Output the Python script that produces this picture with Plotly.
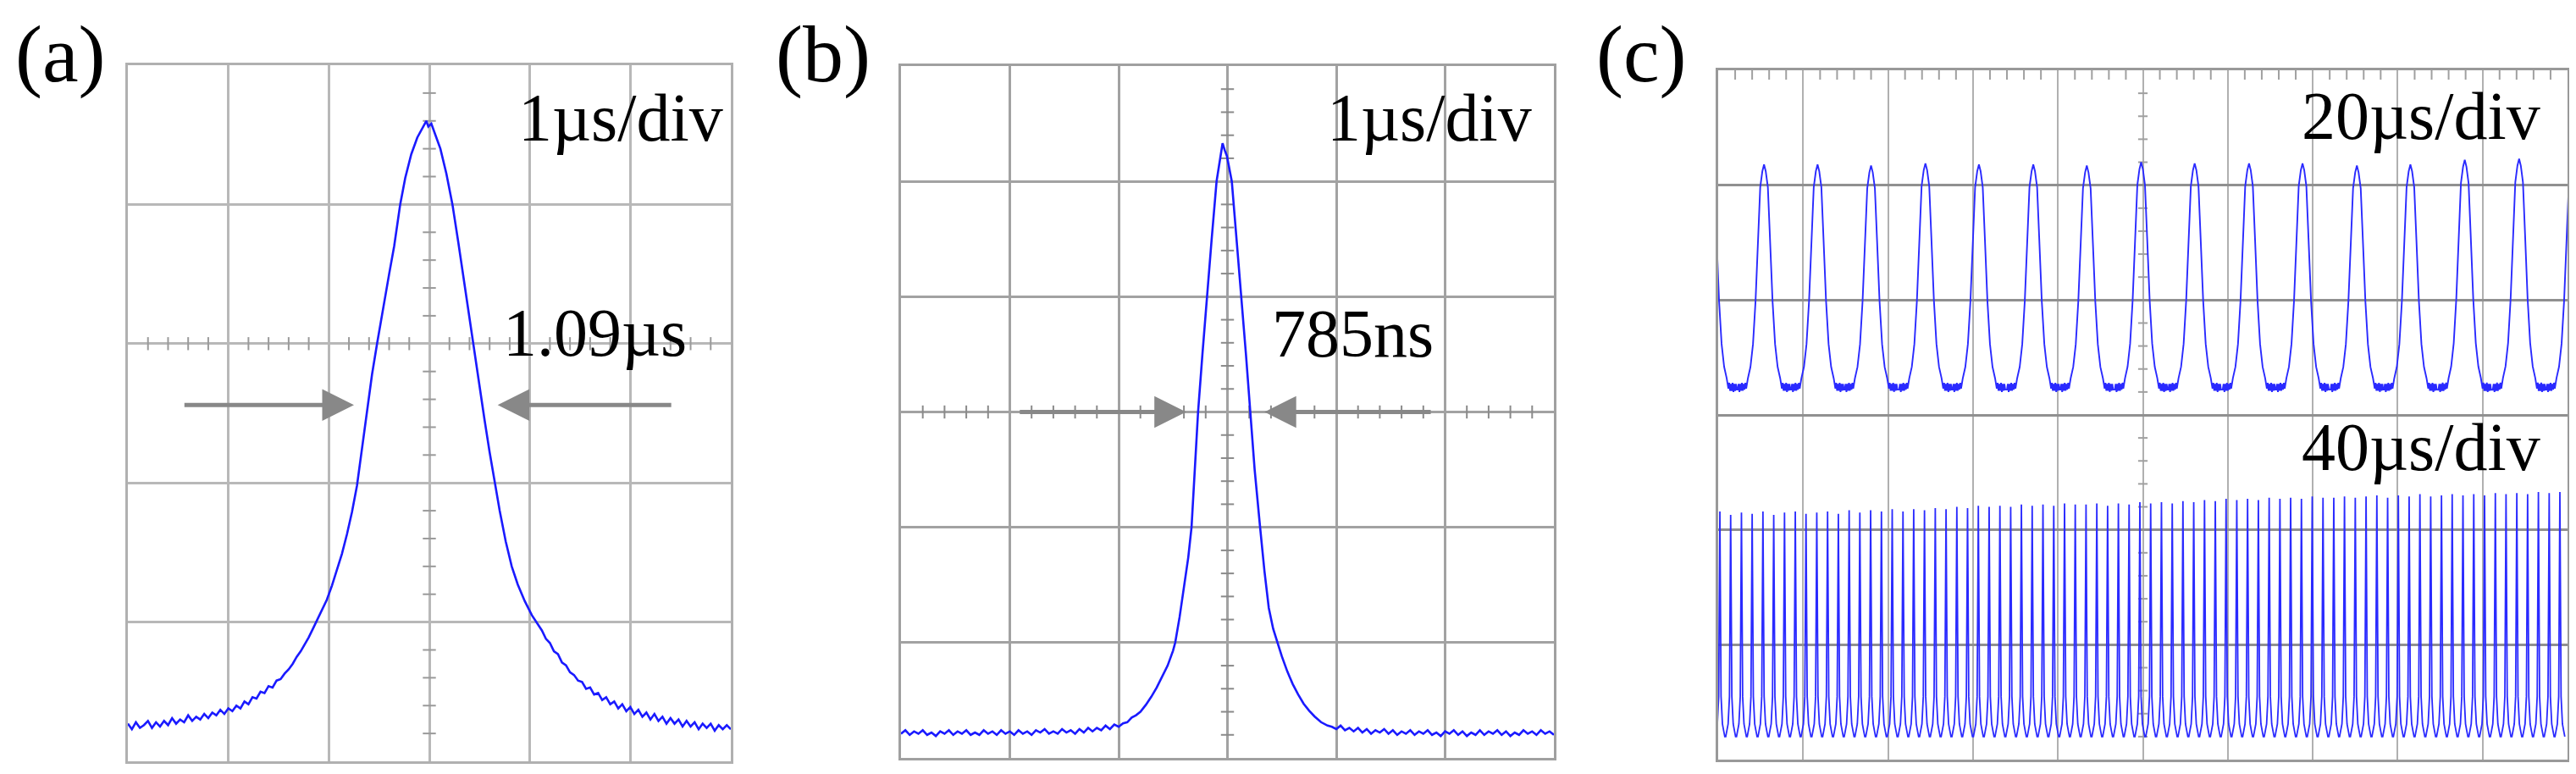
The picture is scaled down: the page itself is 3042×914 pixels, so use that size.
import plotly.graph_objects as go

# ---------------- data (x in divisions, y in divisions) -------------
# Panel (a): 1 us/div single pulse
A_T = [-3.00, -2.96, -2.92, -2.88, -2.84, -2.80, -2.76, -2.72, -2.68, -2.64, -2.60, -2.56,
       -2.52, -2.48, -2.44, -2.40, -2.36, -2.32, -2.28, -2.24, -2.20, -2.16, -2.12, -2.08,
       -2.04, -2.00, -1.96, -1.92, -1.88, -1.84, -1.80, -1.76, -1.72, -1.68, -1.64, -1.60,
       -1.56, -1.52, -1.48, -1.44, -1.40, -1.36, -1.32, -1.28, -1.24, -1.20, -1.16, -1.12,
       -1.07, -1.02, -0.97, -0.92, -0.87, -0.82, -0.77, -0.72, -0.67, -0.62, -0.57, -0.52,
       -0.46, -0.40, -0.35, -0.29, -0.24, -0.18, -0.12, -0.07, -0.03, -0.01, 0.02, 0.06,
       0.11, 0.17, 0.23, 0.29, 0.35, 0.40, 0.44, 0.50, 0.55, 0.60, 0.65, 0.70, 0.76, 0.82,
       0.88, 0.95, 1.02, 1.08,
       1.12, 1.16, 1.20, 1.24, 1.28, 1.32, 1.36, 1.40, 1.44, 1.48, 1.52, 1.56, 1.60, 1.64,
       1.68, 1.72, 1.76, 1.80, 1.84, 1.88, 1.92, 1.96, 2.00, 2.04, 2.08, 2.12, 2.16, 2.20,
       2.24, 2.28, 2.32, 2.36, 2.40, 2.44, 2.48, 2.52, 2.56, 2.60, 2.64, 2.68, 2.72, 2.76,
       2.80, 2.84, 2.88, 2.92, 2.96, 3.00]
A_V = [0.27, 0.23, 0.28, 0.24, 0.26, 0.29, 0.24, 0.28, 0.25, 0.29, 0.26, 0.31,
       0.27, 0.30, 0.28, 0.33, 0.29, 0.32, 0.30, 0.34, 0.31, 0.35, 0.33, 0.37,
       0.34, 0.38, 0.36, 0.40, 0.38, 0.43, 0.41, 0.46, 0.45, 0.50, 0.49, 0.54,
       0.53, 0.58, 0.59, 0.63, 0.66, 0.70, 0.75, 0.79, 0.84, 0.89, 0.95, 1.01,
       1.08, 1.16, 1.26, 1.37, 1.49, 1.63, 1.79, 1.98, 2.25, 2.53, 2.78, 3.00,
       3.26, 3.50, 3.70, 4.00, 4.19, 4.36, 4.48, 4.55, 4.60, 4.56, 4.58, 4.50,
       4.40, 4.22, 4.00, 3.72, 3.42, 3.20, 3.00, 2.70, 2.45, 2.22, 2.00, 1.80, 1.58, 1.40,
       1.27, 1.15, 1.05, 0.98,
       0.94, 0.88, 0.85, 0.79, 0.77, 0.71, 0.69, 0.64, 0.62, 0.58, 0.57, 0.52, 0.53, 0.48,
       0.49, 0.44, 0.46, 0.41, 0.43, 0.38, 0.41, 0.36, 0.39, 0.34, 0.37, 0.32, 0.35, 0.30,
       0.34, 0.29, 0.32, 0.27, 0.31, 0.27, 0.30, 0.25, 0.29, 0.25, 0.28, 0.23, 0.27, 0.24,
       0.27, 0.22, 0.26, 0.23, 0.26, 0.23]

# Panel (b): 1 us/div narrower pulse
B_T = [-3.00, -2.96, -2.92, -2.88, -2.84, -2.80, -2.76, -2.72, -2.68, -2.64, -2.60, -2.56,
       -2.52, -2.48, -2.44, -2.40, -2.36, -2.32, -2.28, -2.24, -2.20, -2.16, -2.12, -2.08,
       -2.04, -2.00, -1.96, -1.92, -1.88, -1.84, -1.80, -1.76, -1.72, -1.68, -1.64, -1.60,
       -1.56, -1.52, -1.48, -1.44, -1.40, -1.36, -1.32, -1.28, -1.24, -1.20, -1.16, -1.12,
       -1.08, -1.04, -1.00, -0.96,
       -0.92, -0.88, -0.84, -0.80, -0.75, -0.70, -0.65, -0.60, -0.55, -0.50, -0.48, -0.44,
       -0.40, -0.36, -0.33, -0.30, -0.27, -0.23, -0.19, -0.145, -0.10, -0.07, -0.045, -0.025,
       -0.005, 0.04, 0.085, 0.13, 0.17, 0.21, 0.25, 0.30, 0.34, 0.38, 0.42, 0.46, 0.50, 0.55,
       0.60, 0.65, 0.70, 0.75, 0.80, 0.86, 0.92,
       0.96, 1.00, 1.04, 1.08, 1.12, 1.16, 1.20, 1.24, 1.28, 1.32, 1.36, 1.40, 1.44, 1.48,
       1.52, 1.56, 1.60, 1.64, 1.68, 1.72, 1.76, 1.80, 1.84, 1.88, 1.92, 1.96, 2.00, 2.04,
       2.08, 2.12, 2.16, 2.20, 2.24, 2.28, 2.32, 2.36, 2.40, 2.44, 2.48, 2.52, 2.56, 2.60,
       2.64, 2.68, 2.72, 2.76, 2.80, 2.84, 2.88, 2.92, 2.96, 3.00]
B_V = [0.21, 0.24, 0.20, 0.23, 0.21, 0.24, 0.20, 0.22, 0.19, 0.23, 0.21, 0.24,
       0.20, 0.23, 0.21, 0.24, 0.20, 0.22, 0.20, 0.24, 0.21, 0.23, 0.20, 0.24,
       0.21, 0.23, 0.20, 0.24, 0.21, 0.23, 0.20, 0.24, 0.22, 0.25, 0.21, 0.23,
       0.21, 0.25, 0.22, 0.24, 0.21, 0.25, 0.22, 0.26, 0.23, 0.26, 0.24, 0.28,
       0.25, 0.29, 0.27, 0.30,
       0.31, 0.35, 0.37, 0.40, 0.46, 0.53, 0.61, 0.70, 0.80, 0.93, 1.00, 1.22,
       1.48, 1.74, 2.00, 2.50, 3.00, 3.50, 4.00, 4.50, 5.00, 5.20, 5.33, 5.27,
       5.22, 5.00, 4.50, 4.00, 3.50, 3.00, 2.50, 2.00, 1.62, 1.30, 1.12, 1.00, 0.88, 0.75,
       0.64, 0.55, 0.47, 0.41, 0.36, 0.31, 0.28,
       0.27, 0.25, 0.28, 0.24, 0.26, 0.23, 0.26, 0.22, 0.25, 0.21, 0.24, 0.22, 0.25, 0.21,
       0.24, 0.20, 0.23, 0.21, 0.24, 0.20, 0.23, 0.21, 0.24, 0.20, 0.22, 0.19, 0.23, 0.21,
       0.24, 0.20, 0.23, 0.19, 0.22, 0.20, 0.24, 0.20, 0.23, 0.21, 0.24, 0.20, 0.23, 0.19,
       0.22, 0.20, 0.24, 0.21, 0.23, 0.20, 0.24, 0.21, 0.23, 0.20]

# Panel (c), upper trace (20 us/div): pulse centres, peak heights, pulse shape
C_TOP_CENTERS = [-0.09, 0.54, 1.17, 1.80, 2.44, 3.07, 3.71, 4.34, 4.98, 5.61, 6.25, 6.88,
                 7.52, 8.15, 8.79, 9.43, 10.06]
C_TOP_PEAKS = [2.20, 2.18, 2.18, 2.17, 2.19, 2.18, 2.18, 2.17, 2.20, 2.19, 2.19, 2.19,
               2.17, 2.18, 2.22, 2.23, 2.20]
C_TOP_SHAPE_DX = [-0.31, -0.30, -0.29, -0.28, -0.27, -0.26, -0.25, -0.24, -0.23, -0.22,
                  -0.21, -0.20, -0.19, -0.16, -0.13, -0.10, -0.07, -0.045, -0.02, 0.0,
                  0.02, 0.045, 0.07, 0.10, 0.13, 0.16, 0.19, 0.20, 0.21, 0.22, 0.23, 0.24,
                  0.25, 0.26, 0.27, 0.28, 0.29, 0.30, 0.31]
C_TOP_SHAPE_V = [0.22, 0.27, 0.20, 0.27, 0.21, 0.28, 0.21, 0.27, 0.22, 0.28, 0.23, 0.29,
                 0.32, 0.42, 0.62, 1.00, 1.55, 2.00, 2.14, 2.20,
                 2.14, 2.00, 1.55, 1.00, 0.62, 0.42, 0.32, 0.28, 0.23, 0.28, 0.21, 0.27,
                 0.21, 0.28, 0.20, 0.27, 0.21, 0.27, 0.22]

# Panel (c), lower trace (40 us/div): spike centres, spike heights, spike shape
C_BOT_CENTERS = [0.020, 0.147, 0.274, 0.400, 0.527, 0.654, 0.781, 0.908, 1.034, 1.161,
                 1.288, 1.415, 1.542, 1.668, 1.795, 1.922, 2.049, 2.176, 2.302, 2.429,
                 2.556, 2.683, 2.810, 2.936, 3.063, 3.190, 3.317, 3.444, 3.570, 3.697,
                 3.824, 3.951, 4.078, 4.204, 4.331, 4.458, 4.585, 4.712, 4.838, 4.965,
                 5.092, 5.219, 5.346, 5.472, 5.599, 5.726, 5.853, 5.980, 6.106, 6.233,
                 6.360, 6.487, 6.614, 6.740, 6.867, 6.994, 7.121, 7.248, 7.374, 7.501,
                 7.628, 7.755, 7.882, 8.008, 8.135, 8.262, 8.389, 8.516, 8.642, 8.769,
                 8.896, 9.023, 9.150, 9.276, 9.403, 9.530, 9.657, 9.784, 9.910]
C_BOT_PEAKS = [2.16, 2.13, 2.15, 2.14, 2.16, 2.13, 2.15, 2.16, 2.14, 2.15,
               2.16, 2.14, 2.17, 2.15, 2.17, 2.16, 2.18, 2.16, 2.18, 2.17,
               2.19, 2.18, 2.20, 2.19, 2.21, 2.20, 2.21, 2.20, 2.22, 2.21,
               2.22, 2.21, 2.23, 2.22, 2.22, 2.23, 2.21, 2.23, 2.22, 2.24,
               2.23, 2.24, 2.23, 2.25, 2.24, 2.26, 2.25, 2.27, 2.26, 2.27,
               2.26, 2.28, 2.27, 2.28, 2.27, 2.29, 2.28, 2.28, 2.29, 2.28,
               2.29, 2.30, 2.28, 2.30, 2.29, 2.31, 2.29, 2.30, 2.31, 2.30,
               2.31, 2.30, 2.32, 2.31, 2.32, 2.31, 2.33, 2.32, 2.33]
C_BOT_SHAPE_DX = [-0.058, -0.045, -0.03, -0.014, 0.0, 0.014, 0.03, 0.045, 0.058]
C_BOT_SHAPE_V = [0.20, 0.25, 0.31, 0.55, 1.0, 0.55, 0.31, 0.25, 0.20]   # 1.0 = spike top

# Labels / annotation text
LABELS = ["(a)", "(b)", "(c)"]
A_TEXT = ["1\u00b5s/div", "1.09\u00b5s"]
B_TEXT = ["1\u00b5s/div", "785ns"]
C_TEXT = ["20\u00b5s/div", "40\u00b5s/div"]
# FWHM arrows (tail, tip) in divisions
A_ARROWS = [(-2.45, -0.75), (2.42, 0.68)]
A_ARROW_Y = 2.56
B_ARROWS = [(-1.92, -0.38), (1.88, 0.34)]
B_ARROW_Y = 3.0

# ---------------- build ----------------
W, H = 3042, 914
BLUE = "#1a1aff"
SERIF = "Liberation Serif"

# upper trace of (c): shape scaled to each pulse's peak
TOP_BASE, TOP_REF = 0.24, 2.20
c_top_x, c_top_y = [], []
for c, p in zip(C_TOP_CENTERS, C_TOP_PEAKS):
    for dx, v in zip(C_TOP_SHAPE_DX, C_TOP_SHAPE_V):
        c_top_x.append(c + dx)
        c_top_y.append(3 + TOP_BASE + (v - TOP_BASE) * (p - TOP_BASE) / (TOP_REF - TOP_BASE))

c_bot_x, c_bot_y = [], []
for c, p in zip(C_BOT_CENTERS, C_BOT_PEAKS):
    for dx, v in zip(C_BOT_SHAPE_DX, C_BOT_SHAPE_V):
        c_bot_x.append(c + dx)
        c_bot_y.append(p if v == 1.0 else v)

fig = go.Figure()

def tick_trace(xs, ys, symbol, xa, ya, color="#9a9a9a", size=11, width=2):
    fig.add_trace(go.Scatter(x=xs, y=ys, mode="markers", xaxis=xa, yaxis=ya,
                             marker=dict(symbol=symbol, size=size, color=color,
                                         line=dict(color=color, width=width)),
                             hoverinfo="skip", showlegend=False))

def frange(a, b, step):
    out = []
    v = a
    while v <= b + 1e-9:
        if abs(v - round(v)) > 1e-6:
            out.append(round(v, 4))
        v += step
    return out

# graticule minor ticks
tick_trace([0] * len(frange(0, 5, 0.2)), frange(0, 5, 0.2), "line-ew", "x", "y")
tick_trace(frange(-3, 3, 0.2), [3] * len(frange(-3, 3, 0.2)), "line-ns", "x", "y")
tick_trace([0] * len(frange(0, 6, 0.2)), frange(0, 6, 0.2), "line-ew", "x2", "y2", color="#8a8a8a")
tick_trace(frange(-3, 3, 0.2), [3] * len(frange(-3, 3, 0.2)), "line-ns", "x2", "y2", color="#8a8a8a")
tick_trace([5] * len(frange(0, 6, 0.2)), frange(0, 6, 0.2), "line-ew", "x3", "y3", color="#a0a0a0", size=8)
tick_trace(frange(0, 10, 0.2), [5.97] * len(frange(0, 10, 0.2)), "line-ns", "x3", "y3", color="#a0a0a0", size=10)

# signal traces
fig.add_trace(go.Scatter(x=A_T, y=A_V, mode="lines", xaxis="x", yaxis="y",
                         line=dict(color=BLUE, width=2.6), showlegend=False))
fig.add_trace(go.Scatter(x=B_T, y=B_V, mode="lines", xaxis="x2", yaxis="y2",
                         line=dict(color=BLUE, width=2.6), showlegend=False))
fig.add_trace(go.Scatter(x=c_top_x, y=c_top_y, mode="lines", xaxis="x3", yaxis="y3",
                         line=dict(color="#2a2aff", width=1.9), showlegend=False))
fig.add_trace(go.Scatter(x=c_bot_x, y=c_bot_y, mode="lines", xaxis="x3", yaxis="y3",
                         line=dict(color="#2a2aff", width=1.8), showlegend=False))

def axis(domain, rng, gcolor, gwidth, lcolor, lwidth, anchor):
    return dict(domain=domain, range=rng, dtick=1, tick0=rng[0], showgrid=True,
                gridcolor=gcolor, gridwidth=gwidth, showline=True, mirror=True,
                linecolor=lcolor, linewidth=lwidth, zeroline=False,
                showticklabels=False, ticks="", fixedrange=True, anchor=anchor)

fig.update_layout(
    width=W, height=H, margin=dict(l=0, r=0, t=0, b=0),
    paper_bgcolor="white", plot_bgcolor="white", showlegend=False,
    xaxis=axis([143 / W, 855 / W], [-3, 3], "#b8b8b8", 2.5, "#b0b0b0", 3, "y"),
    yaxis=axis([23 / H, 845 / H], [0, 5], "#b8b8b8", 2.5, "#b0b0b0", 3, "x"),
    xaxis2=axis([1056 / W, 1827 / W], [-3, 3], "#a2a2a2", 3, "#a0a0a0", 3, "y2"),
    yaxis2=axis([27 / H, 844 / H], [0, 6], "#a2a2a2", 3, "#a0a0a0", 3, "x2"),
    xaxis3=axis([2021 / W, 3024 / W], [0, 10], "#b0b0b0", 1.6, "#999999", 3, "y3"),
    yaxis3=axis([25 / H, 839 / H], [0, 6], "#909090", 2.5, "#999999", 3, "x3"),
)

ann = []
txt = dict(family=SERIF, size=80, color="black")
lab = dict(family=SERIF, size=96, color="black")
# panel labels
for s, px in zip(LABELS, [8, 906, 1875]):
    ann.append(dict(text=s, x=px / W, y=1.0, xref="paper", yref="paper",
                    xanchor="left", yanchor="top", showarrow=False, font=lab))
ann.append(dict(text=A_TEXT[0], x=2.94, y=4.62, xref="x", yref="y", xanchor="right",
                yanchor="middle", showarrow=False, font=txt))
ann.append(dict(text=A_TEXT[1], x=2.58, y=3.08, xref="x", yref="y", xanchor="right",
                yanchor="middle", showarrow=False, font=txt))
ann.append(dict(text=B_TEXT[0], x=2.81, y=5.55, xref="x2", yref="y2", xanchor="right",
                yanchor="middle", showarrow=False, font=txt))
ann.append(dict(text=B_TEXT[1], x=1.91, y=3.68, xref="x2", yref="y2", xanchor="right",
                yanchor="middle", showarrow=False, font=txt))
ann.append(dict(text=C_TEXT[0], x=9.70, y=5.60, xref="x3", yref="y3", xanchor="right",
                yanchor="middle", showarrow=False, font=txt))
ann.append(dict(text=C_TEXT[1], x=9.70, y=2.72, xref="x3", yref="y3", xanchor="right",
                yanchor="middle", showarrow=False, font=txt))
# arrows
for (tail, tip) in A_ARROWS:
    ann.append(dict(x=tip, y=A_ARROW_Y, ax=tail, ay=A_ARROW_Y, xref="x", yref="y",
                    axref="x", ayref="y", text="", showarrow=True, arrowhead=2,
                    arrowsize=1.5, arrowwidth=5, arrowcolor="#888888"))
for (tail, tip) in B_ARROWS:
    ann.append(dict(x=tip, y=B_ARROW_Y, ax=tail, ay=B_ARROW_Y, xref="x2", yref="y2",
                    axref="x2", ayref="y2", text="", showarrow=True, arrowhead=2,
                    arrowsize=1.5, arrowwidth=5, arrowcolor="#888888"))
fig.update_layout(annotations=ann)

fig.write_html("out.html")
